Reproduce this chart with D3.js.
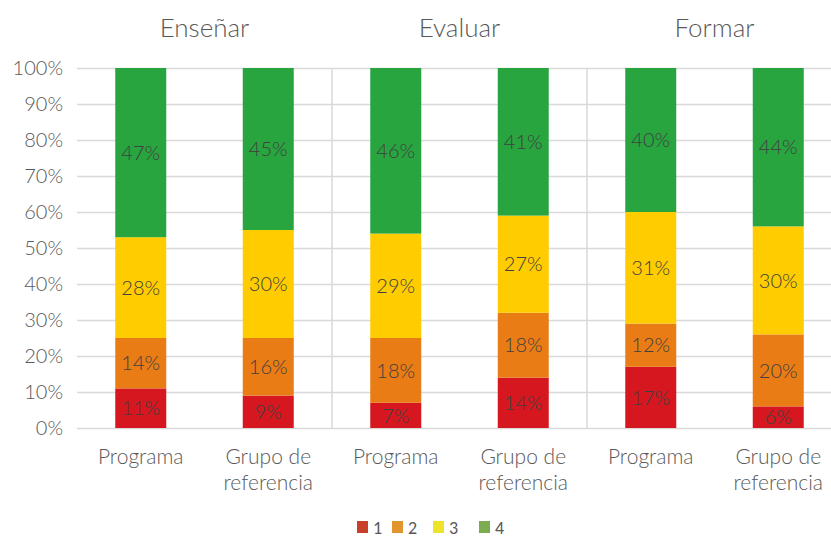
<!DOCTYPE html>
<html>
<head>
<meta charset="utf-8">
<script src="https://cdn.jsdelivr.net/npm/d3@7"></script>
<style>
  body { margin: 0; background: #fff; }
  svg { display: block; }
</style>
</head>
<body>
<div id="chart"></div>
<script>
// datos del gráfico
const groups = ["Enseñar", "Evaluar", "Formar"];
const subcats = ["Programa", "Grupo de referencia"];
const levels = ["1", "2", "3", "4"];
const v1 = [11, 9, 7, 14, 17, 6];
const v2 = [14, 16, 18, 18, 12, 20];
const v3 = [28, 30, 29, 27, 31, 30];
const v4 = [47, 45, 46, 41, 40, 44];
const yTicks = [0, 10, 20, 30, 40, 50, 60, 70, 80, 90, 100];

const barColors = ["#d7171f", "#ea7c16", "#ffcc00", "#29a540"];
const legendColors = ["#c9402a", "#e0952f", "#efe22a", "#7dab4f"];

const W = 831, H = 539;
const series = [v1, v2, v3, v4];

// filas: una por barra
const rows = [];
groups.forEach((g, gi) => subcats.forEach((s, si) => {
  const idx = gi * 2 + si;
  const r = { key: g + "|" + s, group: g, sub: s };
  levels.forEach((l, li) => r[l] = series[li][idx]);
  rows.push(r);
}));

const svg = d3.select("#chart").append("svg")
  .attr("width", W).attr("height", H);

const x = d3.scaleBand().domain(rows.map(d => d.key))
  .range([77, 842]).paddingInner(0.6).paddingOuter(0.3);
const y = d3.scaleLinear().domain([0, 100]).range([428, 68]);
const gx = d3.scaleBand().domain(groups).range([77, 842]);

const font = "Lato, 'Open Sans', sans-serif";

// rejilla horizontal
const yAxis = d3.axisLeft(y).tickValues(yTicks).tickFormat(d => d + "%")
  .tickSize(-(842 - 77)).tickPadding(14);
const ya = svg.append("g").attr("transform", "translate(77,0)").call(yAxis);
ya.select(".domain").remove();
ya.selectAll(".tick line").attr("stroke", "#d9d9d9").attr("stroke-width", 1.5);
ya.selectAll(".tick text").attr("fill", "#595959")
  .style("font-family", font).style("font-weight", 300).style("font-size", "20px");

// separadores de grupo
svg.append("g").selectAll("line").data(groups.slice(1)).join("line")
  .attr("x1", d => gx(d)).attr("x2", d => gx(d))
  .attr("y1", y(100)).attr("y2", y(0))
  .attr("stroke", "#d9d9d9").attr("stroke-width", 1.5);

// barras apiladas
const stack = d3.stack().keys(levels)(rows);
const layer = svg.append("g").selectAll("g").data(stack).join("g")
  .attr("fill", (d, i) => barColors[i]);
layer.selectAll("rect").data(d => d).join("rect")
  .attr("x", d => x(d.data.key))
  .attr("width", x.bandwidth())
  .attr("y", d => y(d[1]))
  .attr("height", d => y(d[0]) - y(d[1]));

// etiquetas de datos
layer.selectAll("text").data(d => d.map(p => ({ p, k: d.key }))).join("text")
  .attr("x", d => x(d.p.data.key) + x.bandwidth() / 2)
  .attr("y", d => (y(d.p[0]) + y(d.p[1])) / 2)
  .attr("dy", "0.36em")
  .attr("text-anchor", "middle")
  .attr("fill", "#404040")
  .style("font-family", font).style("font-weight", 300).style("font-size", "20px")
  .text(d => d.p.data[d.k] + "%");

// etiquetas del eje x
const xl = svg.append("g").selectAll("text").data(rows).join("text")
  .attr("x", d => x(d.key) + x.bandwidth() / 2)
  .attr("y", 464)
  .attr("text-anchor", "middle")
  .attr("fill", "#595959")
  .style("font-family", font).style("font-weight", 300).style("font-size", "21px");
xl.each(function (d) {
  const words = d.sub === "Programa" ? ["Programa"] : ["Grupo de", "referencia"];
  d3.select(this).selectAll("tspan").data(words).join("tspan")
    .attr("x", x(d.key) + x.bandwidth() / 2)
    .attr("dy", (w, i) => i ? 26 : 0)
    .text(w => w);
});

// títulos de grupo
svg.append("g").selectAll("text").data(groups).join("text")
  .attr("x", d => gx(d) + gx.bandwidth() / 2)
  .attr("y", 37)
  .attr("text-anchor", "middle")
  .attr("fill", "#595959")
  .style("font-family", font).style("font-weight", 300).style("font-size", "26px")
  .text(d => d);

// leyenda
const legX = [357, 392, 433, 479];
const leg = svg.append("g").selectAll("g").data(levels).join("g")
  .attr("transform", (d, i) => `translate(${legX[i]},521)`);
leg.append("rect").attr("width", 11).attr("height", 12)
  .attr("fill", (d, i) => legendColors[i]);
leg.append("text").attr("x", 16).attr("y", 12.5)
  .attr("fill", "#595959")
  .style("font-family", "Carlito, 'Liberation Sans', sans-serif").style("font-size", "18px")
  .text(d => d);
</script>
</body>
</html>
